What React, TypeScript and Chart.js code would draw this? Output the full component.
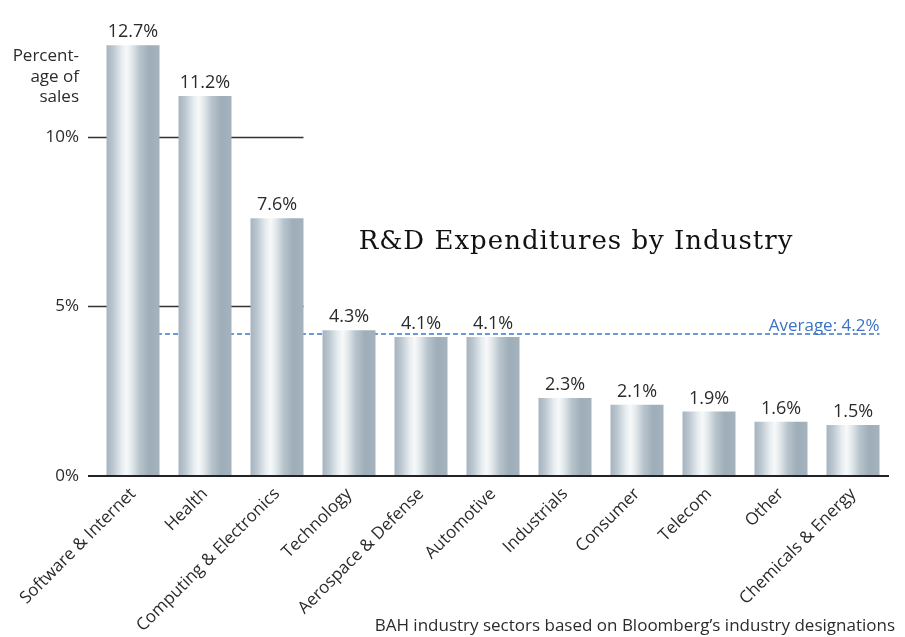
import React, { useEffect, useRef } from "react";
import { Chart, registerables } from "chart.js";

Chart.register(...registerables);

const categories = [
  "Software & Internet",
  "Health",
  "Computing & Electronics",
  "Technology",
  "Aerospace & Defense",
  "Automotive",
  "Industrials",
  "Consumer",
  "Telecom",
  "Other",
  "Chemicals & Energy",
];
const values = [12.7, 11.2, 7.6, 4.3, 4.1, 4.1, 2.3, 2.1, 1.9, 1.6, 1.5];
const averageValue = 4.2;
const yTicks = [0, 5, 10];
const titleText = "R&D Expenditures by Industry";
const footerText = "BAH industry sectors based on Bloomberg\u2019s industry designations";
const yTitleLines = ["Percent-", "age of", "sales"];

const SANS = "'Open Sans', sans-serif";
const TEXT = "#2b2b2b";

const decorPlugin = {
  id: "decor",
  beforeDatasetsDraw(chart: any) {
    const { ctx, chartArea, scales } = chart;
    const y = scales.y;
    const meta = chart.getDatasetMeta(0);
    const els = meta.data;
    els.forEach((el: any) => {
      const l = el.x - el.width / 2;
      const r = el.x + el.width / 2;
      const g = ctx.createLinearGradient(l, 0, r, 0);
      g.addColorStop(0, "#a6b4bf");
      g.addColorStop(0.12, "#bac6cf");
      g.addColorStop(0.28, "#e6ebef");
      g.addColorStop(0.38, "#f7f9fa");
      g.addColorStop(0.48, "#e2e8ec");
      g.addColorStop(0.62, "#b9c5cd");
      g.addColorStop(0.8, "#9eaeb9");
      g.addColorStop(1, "#a4b2bc");
      el.options = Object.assign({}, el.options, { backgroundColor: g });
    });
    const gridRight = els[2].x + els[2].width / 2;
    ctx.save();
    ctx.strokeStyle = "#333";
    ctx.lineWidth = 1.5;
    yTicks.forEach((v) => {
      if (v === 0) return;
      const py = Math.round(y.getPixelForValue(v)) + 0.5;
      ctx.beginPath();
      ctx.moveTo(chartArea.left - 9, py);
      ctx.lineTo(gridRight, py);
      ctx.stroke();
    });
    const ay = Math.round(y.getPixelForValue(averageValue));
    const last = els[els.length - 1];
    const avgRight = last.x + last.width / 2;
    ctx.strokeStyle = "#3d77c6";
    ctx.lineWidth = 1.6;
    ctx.setLineDash([5, 3]);
    ctx.beginPath();
    ctx.moveTo(els[0].x, ay);
    ctx.lineTo(avgRight, ay);
    ctx.stroke();
    ctx.setLineDash([]);
    ctx.fillStyle = "#3a74c2";
    ctx.font = `17px ${SANS}`;
    ctx.textAlign = "right";
    ctx.textBaseline = "alphabetic";
    ctx.fillText(`Average: ${averageValue.toFixed(1)}%`, avgRight, ay - 3);
    ctx.restore();
  },
  afterDatasetsDraw(chart: any) {
    const { ctx, chartArea, scales } = chart;
    const y = scales.y;
    const meta = chart.getDatasetMeta(0);
    ctx.save();
    const zy = Math.round(y.getPixelForValue(0));
    ctx.strokeStyle = "#222";
    ctx.lineWidth = 2;
    ctx.beginPath();
    ctx.moveTo(chartArea.left - 9, zy);
    ctx.lineTo(chartArea.right, zy);
    ctx.stroke();
    ctx.fillStyle = TEXT;
    ctx.font = `18px ${SANS}`;
    ctx.textAlign = "center";
    ctx.textBaseline = "alphabetic";
    meta.data.forEach((el: any, i: number) => {
      ctx.fillText(`${values[i].toFixed(1)}%`, el.x, el.y - 8);
    });
    ctx.textAlign = "right";
    ctx.font = `17px ${SANS}`;
    yTitleLines.forEach((t, i) => {
      ctx.fillText(t, chartArea.left - 18, 61 + i * 20.5);
    });
    ctx.fillStyle = "#111";
    ctx.font = `26px 'DejaVu Serif', serif`;
    (ctx as any).letterSpacing = "1px";
    ctx.textAlign = "center";
    ctx.fillText(titleText, 576, 249);
    (ctx as any).letterSpacing = "0px";
    ctx.fillStyle = TEXT;
    ctx.font = `17px ${SANS}`;
    ctx.textAlign = "right";
    ctx.fillText(footerText, 895, 631);
    ctx.restore();
  },
};

export default function App() {
  const ref = useRef<HTMLCanvasElement | null>(null);
  useEffect(() => {
    if (!ref.current) return;
    const chart = new Chart(ref.current, {
      type: "bar",
      data: {
        labels: categories,
        datasets: [
          {
            data: values,
            backgroundColor: "#b8c4cc",
            borderWidth: 0,
            categoryPercentage: 1,
            barPercentage: 0.736,
          },
        ],
      },
      options: {
        animation: false,
        responsive: false,
        maintainAspectRatio: false,
        layout: { padding: { top: 7, right: 16, bottom: 0, left: 0 } },
        plugins: {
          legend: { display: false },
          tooltip: { enabled: false },
          title: { display: false },
        },
        scales: {
          x: {
            grid: { display: false, drawTicks: false },
            border: { display: false },
            ticks: {
              autoSkip: false,
              minRotation: 45,
              maxRotation: 45,
              padding: 8,
              color: TEXT,
              font: { family: SANS, size: 17 },
            },
            afterFit: (s: any) => {
              s.height = 161;
            },
          },
          y: {
            min: 0,
            max: 13.2,
            grid: { display: false, drawTicks: false },
            border: { display: false },
            afterBuildTicks: (s: any) => {
              s.ticks = yTicks.map((v) => ({ value: v }));
            },
            ticks: {
              padding: 18,
              color: TEXT,
              font: { family: SANS, size: 17 },
              callback: (v: any) => `${v}%`,
            },
            afterFit: (s: any) => {
              s.width = 97;
            },
          },
        },
      },
      plugins: [decorPlugin],
    });
    return () => chart.destroy();
  }, []);
  return (
    <div style={{ position: "absolute", left: 0, top: 0, width: 905, height: 637, background: "#fff" }}>
      <canvas ref={ref} width={905} height={637} />
    </div>
  );
}
